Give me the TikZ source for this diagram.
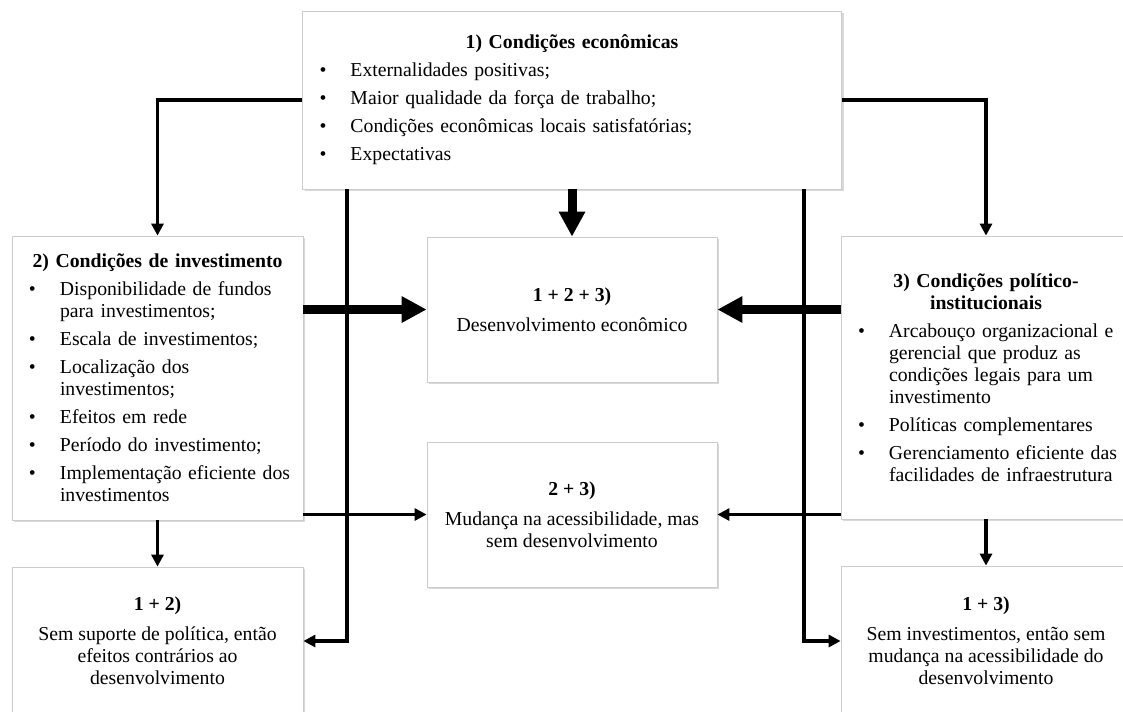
\documentclass[tikz,border=0pt]{standalone}
\usepackage{fontspec}
\setmainfont{Liberation Serif}
\usetikzlibrary{arrows.meta,shadows}
\newcommand{\ttl}[1]{{\centering\bfseries #1\par}}
\newcommand{\bitem}[1]{\par\vspace{4.5pt}\hangindent=36pt\hangafter=1\noindent\hspace*{12.75pt}\makebox[23.25pt][l]{\textbullet}#1\par}
\tikzset{
  box/.style={draw=black!20, line width=0.6pt, fill=white,
    drop shadow={shadow xshift=1.8pt, shadow yshift=-1.8pt, fill=black!30},
    inner sep=0pt, font=\fontsize{14.8}{16.5}\selectfont},
  listbox/.style={box, align=left},
  resbox/.style={box, align=center, minimum width=217.5pt},
  conn/.style={line width=2.8pt, -{Triangle[length=9pt,width=9pt]}},
  bigconn/.style={line width=6.75pt, -{Triangle[length=18.75pt,width=18.75pt]}},
}
\begin{document}
\begin{tikzpicture}[x=0.75pt, y=-0.75pt]
\fill[white] (0,0) rectangle (1123,711);
\useasboundingbox (0,0) rectangle (1123,711);

\node[listbox, text width=404.25pt, minimum height=133.5pt] (b1) at (572,100) {%
\ttl{1) Condições econômicas}
\bitem{Externalidades positivas;}
\bitem{Maior qualidade da força de trabalho;}
\bitem{Condições econômicas locais satisfatórias;}
\bitem{Expectativas}};

\node[listbox, text width=218.25pt, minimum height=213pt] (b2) at (157.5,378) {%
\ttl{2) Condições de investimento}
\bitem{Disponibilidade de fundos\newline para investimentos;}
\bitem{Escala de investimentos;}
\bitem{Localização dos\newline investimentos;}
\bitem{Efeitos em rede}
\bitem{Período do investimento;}
\bitem{Implementação eficiente dos\newline investimentos}};

\node[listbox, text width=217.5pt, minimum height=212.25pt] (b3) at (986,377.5) {%
\ttl{3) Condições político-\\institucionais}
\bitem{Arcabouço organizacional e\newline gerencial que produz as\newline condições legais para um\newline investimento}
\bitem{Políticas complementares}
\bitem{Gerenciamento eficiente das\newline facilidades de infraestrutura}};

\node[resbox, minimum height=108.75pt] (b123) at (572,309.5)
  {{\bfseries 1 + 2 + 3)}\\[6pt]Desenvolvimento econômico};
\node[resbox, minimum height=108.75pt] (b23) at (572,514.5)
  {{\bfseries 2 + 3)}\\[6pt]Mudança na acessibilidade, mas\\sem desenvolvimento};
\node[resbox, minimum width=218.25pt, minimum height=111pt] (b12) at (157.5,641)
  {{\bfseries 1 + 2)}\\[6pt]Sem suporte de política, então\\efeitos contrários ao\\desenvolvimento};
\node[resbox, minimum height=112.5pt] (b13) at (986,641)
  {{\bfseries 1 + 3)}\\[6pt]Sem investimentos, então sem\\mudança na acessibilidade do\\desenvolvimento};

\draw[conn] (b1.west) -| (b2.north);
\draw[conn] (b1.east) -| (b3.north);
\draw[bigconn] (b1.south) -- (b123.north);
\draw[bigconn] (b2.east |- b123.west) -- (b123.west);
\draw[bigconn] (b3.west |- b123.east) -- (b123.east);
\draw[conn] (b2.east |- b23.west) -- (b23.west);
\draw[conn] (b3.west |- b23.east) -- (b23.east);
\draw[conn] (b2.south) -- (b12.north);
\draw[conn] (b3.south) -- (b13.north);
\draw[conn] ([xshift=33.75pt]b1.south west) |- (b12.east);
\draw[conn] ([xshift=-28.5pt]b1.south east) |- (b13.west);
\end{tikzpicture}
\end{document}
